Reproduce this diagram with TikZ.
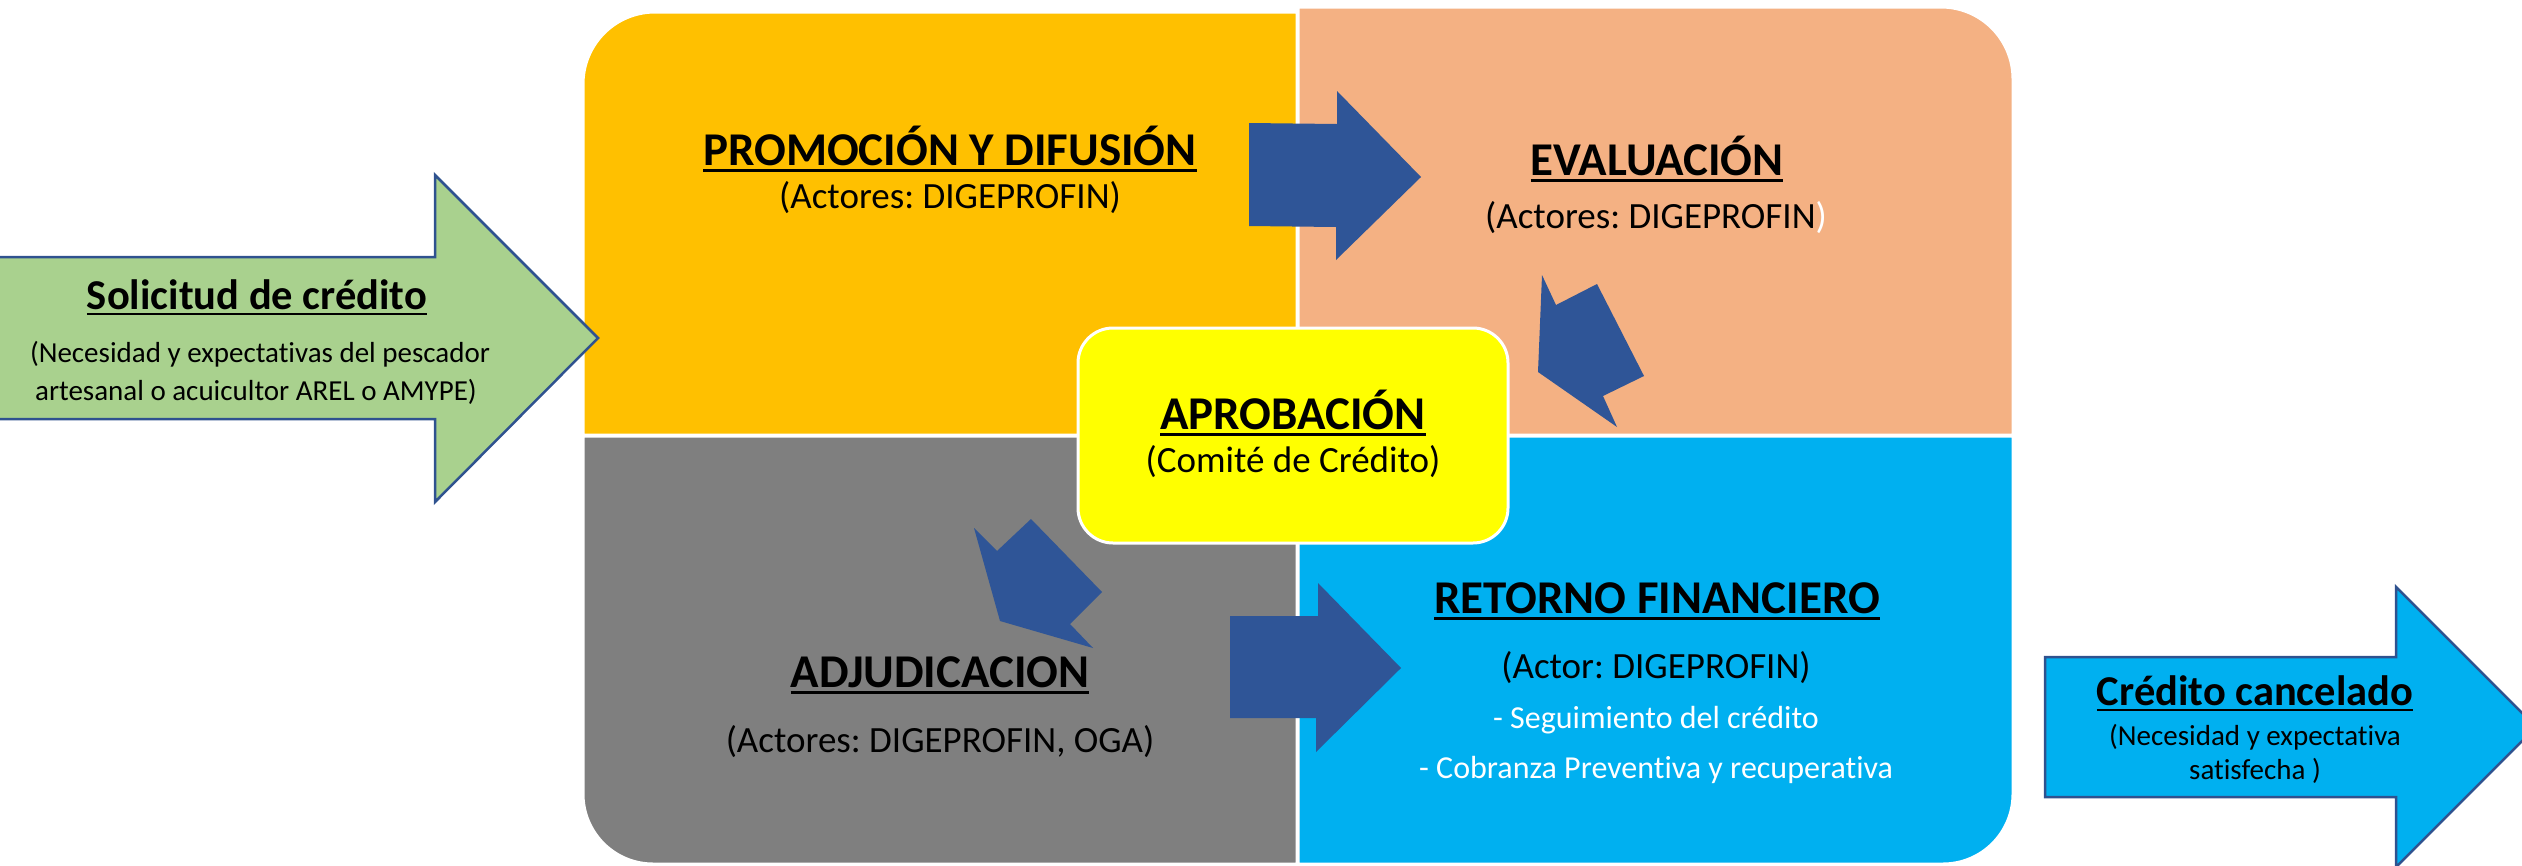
\documentclass[tikz,border=0pt]{standalone}
\usepackage{fontspec}
\setmainfont{Carlito}[Ligatures=NoCommon]
\frenchspacing
\definecolor{qyellow}{HTML}{FFC000}
\definecolor{qpeach}{HTML}{F4B183}
\definecolor{qgray}{HTML}{7F7F7F}
\definecolor{qblue}{HTML}{00B0F0}
\definecolor{cyellow}{HTML}{FFFF00}
\definecolor{agreen}{HTML}{A9D18E}
\definecolor{arrblue}{HTML}{2F5597}
\definecolor{arrline}{HTML}{2F528F}
\newsavebox\ulsave
\newcommand\ulbox[1]{\sbox\ulsave{#1}\rlap{\rule[-0.15em]{\wd\ulsave}{0.065em}}\usebox\ulsave}
\tikzset{
  ttl/.style={anchor=base, inner sep=0pt, font=\bfseries\fontsize{47}{56}\selectfont},
  hd/.style={anchor=base, inner sep=0pt, font=\bfseries\fontsize{42.5}{50}\selectfont},
  sub/.style={anchor=base, inner sep=0pt, font=\fontsize{37}{44}\selectfont},
  sm/.style={anchor=base, inner sep=0pt, font=\fontsize{29}{35}\selectfont},
  bul/.style={anchor=base, inner sep=0pt, font=\fontsize{32}{38}\selectfont, text=white},
  quad/.style={draw=white, line width=3pt},
  blockarr/.style={fill=arrblue},
  bigarr/.style={draw=arrline, line width=2.5pt, line join=miter},
}
\begin{document}
\begin{tikzpicture}[x=1pt,y=-1pt]
\useasboundingbox (0,0) rectangle (2522,865);
% quadrants
\path[quad, fill=qyellow] (1297,435) -- (583,435) -- (583,84) arc[start angle=180, end angle=270, radius=72] -- (1297,12) -- cycle;
\path[quad, fill=qpeach] (1298,435) -- (1298,7) -- (1941,7) arc[start angle=270, end angle=360, radius=72] -- (2013,435) -- cycle;
\path[quad, fill=qgray] (583,436) -- (1297,436) -- (1297,864) -- (653,864) arc[start angle=90, end angle=180, radius=70] -- cycle;
\path[quad, fill=qblue] (1298,436) -- (2013,436) -- (2013,794) arc[start angle=0, end angle=90, radius=70] -- (1298,864) -- cycle;
% centre box
\node[draw=white, line width=3pt, fill=cyellow, rounded corners=35pt, minimum width=430pt, minimum height=215pt, inner sep=0pt] (aprob) at (1293,435.5) {};
% block arrows
\fill[blockarr] (1249,123) -- (1337,124) -- (1337,91) -- (1421,177) -- (1336,260) -- (1336,227) -- (1249,226) -- cycle;
\fill[blockarr] (1230,616) -- (1318,616) -- (1318,583) -- (1401,668) -- (1316,752) -- (1316,718) -- (1230,718) -- cycle;
\fill[blockarr] (1597,284) -- (1644,376) -- (1603,396) -- (1617,427) -- (1538,372) -- (1542,275) -- (1556,305) -- cycle;
\fill[blockarr] (1031,519) -- (1102,592) -- (1070,624) -- (1093,648) -- (1000,621) -- (974,528) -- (997,551) -- cycle;
% big arrows
\path[bigarr, fill=agreen] (-10,257) -- (435,257) -- (435,175) -- (598,338) -- (435,502) -- (435,419) -- (-10,419) -- cycle;
\path[bigarr, fill=qblue] (2045,657) -- (2396,657) -- (2396,587) -- (2536,727) -- (2396,867) -- (2396,797) -- (2045,797) -- cycle;
% texts
\node[hd] (sol1) at (257,309) {\ulbox{Solicitud de crédito}};
\node[sm] (sol2) at (260,362) {(Necesidad y expectativas del pescador};
\node[sm] (sol3) at (256,400) {artesanal o acuicultor AREL o AMYPE)};
\node[ttl] (prom1) at (950,165) {\ulbox{PROMOCIÓN Y DIFUSIÓN}};
\node[sub] (prom2) at (950,208) {(Actores: DIGEPROFIN)};
\node[ttl] (eval1) at (1657,175) {\ulbox{EVALUACIÓN}};
\node[sub] (eval2) at (1656,228) {(Actores: DIGEPROFIN{\color{white})}};
\node[ttl] (apr1) at (1293,429) {\ulbox{APROBACIÓN}};
\node[sub] (apr2) at (1293,472) {(Comité de Crédito)};
\node[ttl] (adj1) at (940,687) {\ulbox{ADJUDICACION}};
\node[sub] (adj2) at (940,752) {(Actores: DIGEPROFIN, OGA)};
\node[ttl] (ret1) at (1657,613) {\ulbox{RETORNO FINANCIERO}};
\node[sub] (ret2) at (1656,678) {(Actor: DIGEPROFIN)};
\node[bul] (ret3) at (1656,728) {- Seguimiento del crédito};
\node[bul] (ret4) at (1656,778) {- Cobranza Preventiva y recuperativa};
\node[hd] (can1) at (2255,705) {\ulbox{Crédito cancelado}};
\node[sm] (can2) at (2255,745) {(Necesidad y expectativa};
\node[sm] (can3) at (2255,779) {satisfecha )};
\end{tikzpicture}
\end{document}
